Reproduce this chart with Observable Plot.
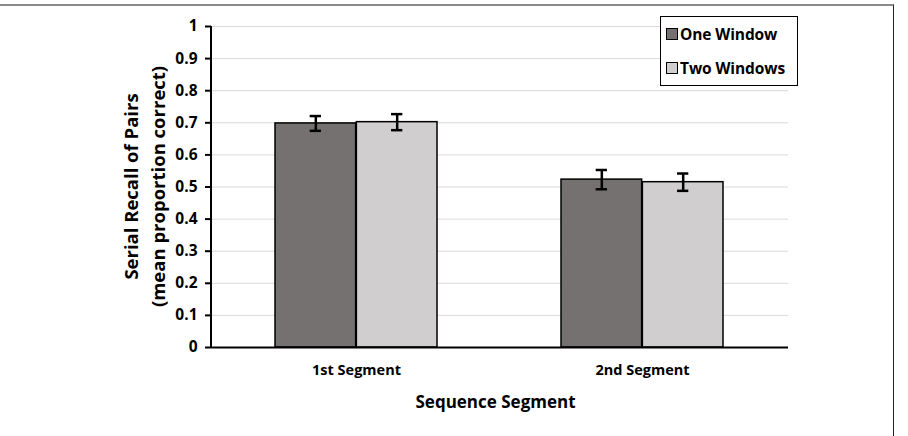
<!DOCTYPE html>
<html>
<head>
<meta charset="utf-8">
<script src="https://cdn.jsdelivr.net/npm/d3@7"></script>
<script src="https://cdn.jsdelivr.net/npm/@observablehq/plot@0.6"></script>
<style>
  html, body { margin: 0; padding: 0; background: #fff; }
  #wrap { position: relative; width: 908px; height: 436px; overflow: hidden; font-family: "Open Sans", sans-serif; }
  #border { position: absolute; left: -4px; top: 4px; width: 898px; height: 440px; border-top: 2px solid #8a8a8a; border-right: 1.5px solid #222; box-sizing: border-box; }
  #legend { position: absolute; left: 660px; top: 16px; width: 138px; height: 70px; border: 1.5px solid #000; box-sizing: border-box; background: #fff; font-weight: bold; font-size: 15.5px; line-height: 16px; color: #000; }
  .item { position: absolute; left: 5px; height: 16px; display: flex; align-items: center; white-space: nowrap; letter-spacing: -0.1px; }
  .sw { width: 10px; height: 10px; border: 1.2px solid #000; margin-right: 2px; }
  svg { position: absolute; left: 0; top: 0; }
</style>
</head>
<body>
<div id="wrap">
  <div id="border"></div>
  <div id="chart"></div>
  <div id="legend"></div>
</div>
<script>
const segments = ["1st Segment", "2nd Segment"];
const conditions = ["One Window", "Two Windows"];
const oneWindow = [0.698, 0.523];
const twoWindows = [0.702, 0.515];
const oneWindowErr = [0.023, 0.030];
const twoWindowsErr = [0.025, 0.027];
const colors = ["#767171", "#d0cece"];
const yTicks = [0, 0.1, 0.2, 0.3, 0.4, 0.5, 0.6, 0.7, 0.8, 0.9, 1];
const yTickLabels = ["0", "0.1", "0.2", "0.3", "0.4", "0.5", "0.6", "0.7", "0.8", "0.9", "1"];
const yTitle = ["Serial Recall of Pairs", "(mean proportion correct)"];
const xTitle = "Sequence Segment";

const FONT = "'Open Sans', sans-serif";

const rows = [];
segments.forEach((s, i) => {
  rows.push({segment: s, condition: conditions[0], value: oneWindow[i], err: oneWindowErr[i], side: 0});
  rows.push({segment: s, condition: conditions[1], value: twoWindows[i], err: twoWindowsErr[i], side: 1});
});

const W = 908, H = 436;
const mL = 211, mR = 120, mT = 26, mB = 89;
const padInner = 0.432, padOuter = 0.223;
const bw = d3.scaleBand().domain(segments).range([mL, W - mR]).paddingInner(padInner).paddingOuter(padOuter).bandwidth();
const half = bw / 2;

const marks = [
  Plot.ruleY(yTicks.slice(1), {stroke: "#d9d9d9", strokeWidth: 1}),
];
[0, 1].forEach(side => {
  const data = rows.filter(r => r.side === side);
  marks.push(Plot.barY(data, {
    x: "segment", y: "value", fill: colors[side], stroke: "#000", strokeWidth: 1.5,
    insetLeft: side === 0 ? 0 : half, insetRight: side === 0 ? half : 0
  }));
  const dx = side === 0 ? -half / 2 : half / 2;
  marks.push(Plot.ruleX(data, {x: "segment", y1: d => d.value - d.err, y2: d => d.value + d.err, stroke: "#000", strokeWidth: 2.5, dx}));
  marks.push(Plot.tickY(data, {x: "segment", y: d => d.value - d.err, stroke: "#000", strokeWidth: 2.5, dx, insetLeft: bw / 2 - 6, insetRight: bw / 2 - 6}));
  marks.push(Plot.tickY(data, {x: "segment", y: d => d.value + d.err, stroke: "#000", strokeWidth: 2.5, dx, insetLeft: bw / 2 - 6, insetRight: bw / 2 - 6}));
});
marks.push(Plot.ruleY([0], {stroke: "#000", strokeWidth: 2}));
marks.push(Plot.axisY({ticks: yTicks, tickFormat: d => yTickLabels[yTicks.indexOf(d)], tickSize: 6, tickPadding: 8, strokeWidth: 2, fontSize: 15.5, fontWeight: "bold", label: null, color: "#000"}));
marks.push(Plot.axisX({tickSize: 0, tickPadding: 17, fontSize: 14.5, fontWeight: "bold", label: null, color: "#000"}));

const plot = Plot.plot({
  width: W, height: H,
  marginLeft: mL, marginRight: mR, marginTop: mT, marginBottom: mB,
  style: {fontFamily: FONT, color: "#000", background: "transparent"},
  x: {domain: segments, paddingInner: padInner, paddingOuter: padOuter, axis: null},
  y: {domain: [0, 1], axis: null},
  marks
});

document.getElementById("chart").appendChild(plot);

const ys = plot.scale("y");
const svg = d3.select(plot);
svg.append("line")
  .attr("x1", mL).attr("x2", mL)
  .attr("y1", ys.apply(0) + 1).attr("y2", ys.apply(1))
  .attr("stroke", "#000").attr("stroke-width", 2);

const cy = (ys.apply(0) + ys.apply(1)) / 2;
const yt = svg.append("text")
  .attr("transform", `translate(142,${cy}) rotate(-90)`)
  .attr("text-anchor", "middle")
  .attr("font-family", FONT)
  .attr("font-size", 18.5).attr("font-weight", "bold").attr("fill", "#000");
yt.append("tspan").attr("x", 0).attr("dy", "-0.2em").text(yTitle[0]);
yt.append("tspan").attr("x", 0).attr("dy", "1.45em").text(yTitle[1]);

svg.append("text")
  .attr("x", (mL + W - mR) / 2 - 4).attr("y", 408)
  .attr("text-anchor", "middle")
  .attr("font-family", FONT)
  .attr("font-size", 17).attr("font-weight", "bold").attr("fill", "#000")
  .text(xTitle);

const legend = document.getElementById("legend");
conditions.forEach((c, i) => {
  const item = document.createElement("div");
  item.className = "item";
  item.style.top = (i === 0 ? 8.5 : 42.5) + "px";
  const sw = document.createElement("div");
  sw.className = "sw";
  sw.style.background = colors[i];
  const t = document.createElement("span");
  t.textContent = c;
  item.appendChild(sw);
  item.appendChild(t);
  legend.appendChild(item);
});
</script>
</body>
</html>
